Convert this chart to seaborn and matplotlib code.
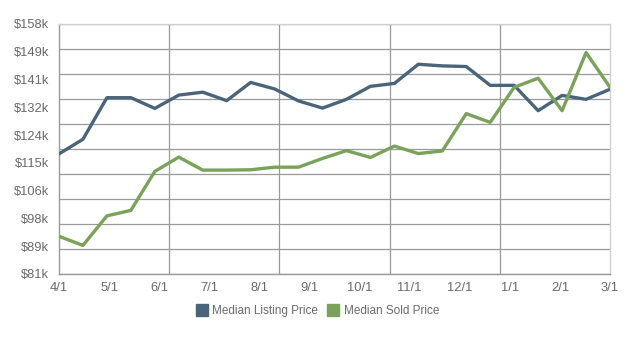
import numpy as np
import pandas as pd
import matplotlib
matplotlib.use("Agg")
import matplotlib.pyplot as plt
from matplotlib.lines import Line2D
import seaborn as sns

# ---- data (values in $k) ----
month_labels = ["4/1", "5/1", "6/1", "7/1", "8/1", "9/1", "10/1", "11/1", "12/1", "1/1", "2/1", "3/1"]
y_labels = ["$81k", "$89k", "$98k", "$106k", "$115k", "$124k", "$132k", "$141k", "$149k", "$158k"]
listing_price = [118.0, 122.5, 135.3, 135.3, 132.0, 136.1, 137.0, 134.4, 140.0, 138.0, 134.3, 132.1,
                 134.8, 138.8, 139.7, 145.6, 145.1, 144.9, 139.1, 139.1, 131.3, 136.0, 134.8, 137.9]
sold_price = [92.6, 89.8, 98.9, 100.6, 112.6, 117.0, 113.0, 113.0, 113.1, 113.9, 113.9, 116.6,
              119.0, 116.9, 120.4, 118.1, 118.9, 130.4, 127.7, 138.5, 141.3, 131.3, 149.2, 138.5]
series_names = ["Median Listing Price", "Median Sold Price"]
colors = ["#4a6479", "#7aa25a"]

n = len(listing_price)
df = pd.DataFrame({
    "idx": list(range(n)) * 2,
    "value": listing_price + sold_price,
    "series": [series_names[0]] * n + [series_names[1]] * n,
})

sns.set_style("white")
plt.rcParams["font.family"] = ["Liberation Sans", "DejaVu Sans"]

fig = plt.figure(figsize=(6.35, 3.38), dpi=100)
ax = fig.add_axes([59 / 635, 1 - 274 / 338, 551 / 635, 250 / 338])

ymin, ymax = 81, 158
xmax = n - 1

# grids (independent of tick labels, as in reference)
for gy in np.linspace(ymin, ymax, 11):
    ax.axhline(gy, color="#9a9a9a", lw=0.9, zorder=0)
for gx in np.linspace(0, xmax, 6)[1:-1]:
    ax.axvline(gx, color="#9a9a9a", lw=0.9, zorder=0)

sns.lineplot(data=df, x="idx", y="value", hue="series", palette=colors,
             linewidth=2.4, ax=ax, legend=False, zorder=3)

ax.set_xlim(0, xmax)
ax.set_ylim(ymin, ymax)
ax.set_xticks(np.linspace(0, xmax, len(month_labels)))
ax.set_xticklabels(month_labels)
ax.set_yticks(np.linspace(ymin, ymax, len(y_labels)))
ax.set_yticklabels(y_labels)
ax.set_xlabel("")
ax.set_ylabel("")
ax.tick_params(axis="both", length=5, width=0.9, color="#999999",
               labelsize=9.3, labelcolor="#6a6a6a", pad=2, direction="out")
ax.tick_params(axis="x", pad=1)
ax.grid(False)

for side in ["left", "bottom"]:
    ax.spines[side].set_color("#999999")
    ax.spines[side].set_linewidth(1.0)
for side in ["top", "right"]:
    ax.spines[side].set_color("#d0d0d0")
    ax.spines[side].set_linewidth(1.0)

handles = [Line2D([0], [0], marker="s", color="none", markerfacecolor=c, markeredgecolor=c,
                  markersize=8.5) for c in colors]
fig.legend(handles, series_names, loc="center", bbox_to_anchor=(317 / 635, 1 - 311 / 338),
           ncol=2, frameon=False, fontsize=8.5, labelcolor="#6a6a6a",
           handletextpad=0.3, columnspacing=0.7, handlelength=1.2)

fig.savefig("out.png", dpi=100, facecolor="white")
